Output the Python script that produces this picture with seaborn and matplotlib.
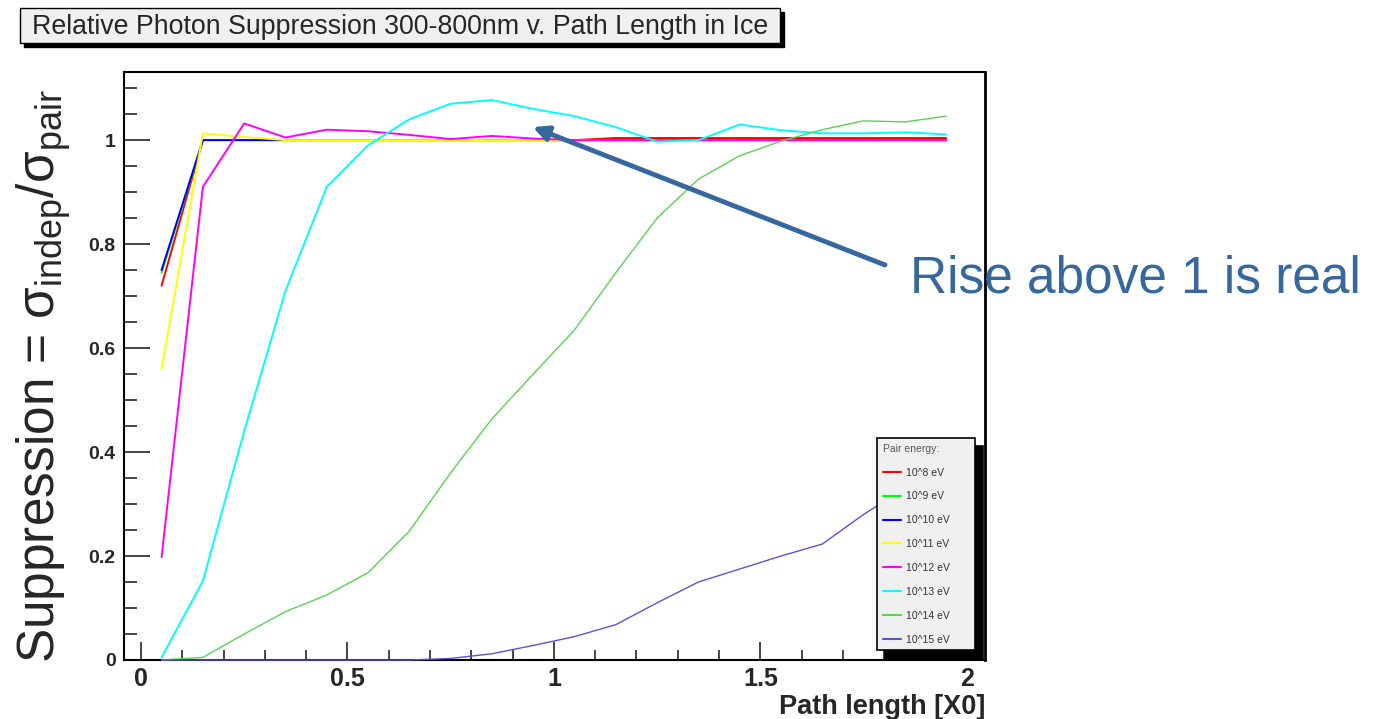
import matplotlib
matplotlib.use("Agg")
import matplotlib.pyplot as plt
import matplotlib.patches as mpatches
import pandas as pd
import seaborn as sns

# path lengths (X0) where the suppression was evaluated
path_len = [0.05, 0.15, 0.25, 0.35, 0.45, 0.55, 0.65, 0.75, 0.85, 0.95,
            1.05, 1.15, 1.25, 1.35, 1.45, 1.55, 1.65, 1.75, 1.85, 1.95]

energy_labels = ["10^8 eV", "10^9 eV", "10^10 eV", "10^11 eV",
                 "10^12 eV", "10^13 eV", "10^14 eV", "10^15 eV"]
energy_colors = ["#ff0000", "#00ff00", "#0000ff", "#ffff00",
                 "#ff00ff", "#00ffff", "#59d454", "#5954d9"]

supp_e8 = [0.72, 1.0, 1.0, 1.0, 1.0, 1.0, 1.0, 1.0, 1.0, 1.0,
           1.0, 1.004, 1.004, 1.004, 1.004, 1.004, 1.004, 1.004, 1.004, 1.004]
supp_e9 = [0.745, 1.0, 1.0, 1.0, 1.0, 1.0, 1.0, 1.0, 1.0, 1.0,
           1.0, 1.0, 1.0, 1.0, 1.0, 1.0, 1.0, 1.0, 1.0, 1.0]
supp_e10 = [0.75, 1.0, 1.0, 1.0, 1.0, 1.0, 1.0, 1.0, 1.0, 1.0,
            1.0, 1.0, 1.0, 1.0, 1.0, 1.0, 1.0, 1.0, 1.0, 1.0]
supp_e11 = [0.56, 1.013, 1.006, 1.0, 1.0, 1.0, 1.0, 1.0, 1.0, 1.0,
            1.0, 1.0, 1.0, 1.0, 1.0, 1.0, 1.0, 1.0, 1.0, 1.0]
supp_e12 = [0.198, 0.91, 1.032, 1.005, 1.02, 1.017, 1.01, 1.002, 1.008, 1.003,
            1.0, 1.0, 1.0, 1.0, 1.0, 1.0, 1.0, 1.0, 1.0, 1.0]
supp_e13 = [0.005, 0.152, 0.44, 0.71, 0.91, 0.99, 1.04, 1.07, 1.077, 1.06,
            1.046, 1.025, 0.997, 1.0, 1.03, 1.019, 1.013, 1.013, 1.015, 1.011]
supp_e14 = [0.0, 0.005, 0.05, 0.093, 0.125, 0.168, 0.248, 0.36, 0.464, 0.55,
            0.635, 0.745, 0.85, 0.925, 0.97, 0.998, 1.02, 1.037, 1.035, 1.046]
supp_e15 = [0.0, 0.0, 0.0, 0.0, 0.0, 0.0, 0.0, 0.003, 0.012, 0.028,
            0.045, 0.068, 0.11, 0.15, 0.175, 0.2, 0.223, 0.28, 0.33, 0.38]

all_series = [supp_e8, supp_e9, supp_e10, supp_e11,
              supp_e12, supp_e13, supp_e14, supp_e15]

xticks = [0, 0.5, 1, 1.5, 2]
xtick_labels = ["0", "0.5", "1", "1.5", "2"]
yticks = [0, 0.2, 0.4, 0.6, 0.8, 1.0]
ytick_labels = ["0", "0.2", "0.4", "0.6", "0.8", "1"]

sns.set_style("white")
plt.rcParams["font.family"] = ["Liberation Sans", "DejaVu Sans"]
plt.rcParams["mathtext.fontset"] = "custom"
plt.rcParams["mathtext.rm"] = "Liberation Sans"
plt.rcParams["mathtext.it"] = "Liberation Sans"

W, H = 1385, 719
fig = plt.figure(figsize=(W / 100, H / 100), dpi=100)
ax = fig.add_axes([124 / W, 1 - 660 / H, 861 / W, 588 / H])

for vals, lab, col in zip(all_series, energy_labels, energy_colors):
    lw = 1.0 if lab in ("10^14 eV", "10^15 eV") else 1.4
    sns.lineplot(x=path_len, y=vals, color=col, label=lab, lw=lw, ax=ax,
                 zorder=3, clip_on=False)

ax.set_xlim(-0.041, 2.044)
ax.set_ylim(0, 1.131)
ax.set_xticks(xticks)
ax.set_xticklabels(xtick_labels, fontsize=18, fontweight="bold")
ax.set_yticks(yticks)
ax.set_yticklabels(ytick_labels, fontsize=14, fontweight="bold")
ax.set_xticks([i / 10 for i in range(0, 21)], minor=True)
ax.set_yticks([i / 20 for i in range(0, 23)], minor=True)
ax.tick_params(axis="x", which="major", direction="in", length=13, width=1.2, pad=5)
ax.tick_params(axis="x", which="minor", direction="in", length=7, width=1.2)
ax.tick_params(axis="y", which="major", direction="in", length=19, width=1.2, pad=6)
ax.tick_params(axis="y", which="minor", direction="in", length=9.5, width=1.2)
ax.tick_params(bottom=True, left=True, top=False, right=False, which="both")
for sp in ax.spines.values():
    sp.set_color("black")
    sp.set_linewidth(1.5)
ax.spines["right"].set_linewidth(2.0)
ax.set_xlabel("")
ax.set_ylabel("")

handles, labels = ax.get_legend_handles_labels()
leg = ax.legend(handles, labels, title="Pair energy:",
                loc="upper left",
                bbox_to_anchor=((877 - 124) / 861, (660 - 438) / 588, 98 / 861, 0.0),
                mode="expand", borderaxespad=0,
                fontsize=7.5, title_fontsize=7.5, frameon=True, fancybox=False,
                edgecolor="black", facecolor="#f0f0f0", framealpha=1,
                shadow={"ox": 6, "oy": -6, "color": "black", "alpha": 1},
                labelspacing=1.33, handlelength=1.8, handletextpad=0.4,
                borderpad=0.55, alignment="left")
leg.get_frame().set_linewidth(1.2)
leg.set_zorder(5)
leg.get_title().set_color("#555555")
for t in leg.get_texts():
    t.set_color("#333333")
for h in leg.get_lines():
    h.set_linewidth(1.5)

# title box with drop shadow (ROOT style)
fig.patches.append(mpatches.Rectangle((24 / W, 1 - 47 / H), 760 / W, 35 / H,
                                      transform=fig.transFigure, color="black", zorder=1))
fig.patches.append(mpatches.Rectangle((20 / W, 1 - 43 / H), 760 / W, 35 / H,
                                      transform=fig.transFigure, facecolor="#f0f0f0",
                                      edgecolor="black", lw=1.0, zorder=2))
fig.text(400 / W, 1 - 27 / H, "Relative Photon Suppression 300-800nm v. Path Length in Ice",
         ha="center", va="center", fontsize=19.3, zorder=3)

fig.text(985 / W, 5 / H, "Path length [X0]", ha="right", va="baseline",
         fontsize=19.5, fontweight="bold")

fig.text(44 / W, 1 - 376 / H,
         r"Suppression = $\mathregular{\sigma_{indep}/\sigma_{pair}}$",
         rotation=90, ha="center", va="center", fontsize=37)

note_color = "#36679f"
ax.annotate("", xy=(0.949, 1.025), xycoords="data",
            xytext=(885, H - 265), textcoords="figure pixels",
            arrowprops=dict(arrowstyle="-|>,head_length=0.9,head_width=0.45",
                            color=note_color, lw=3.5, shrinkA=0, shrinkB=0))
fig.text(910 / W, 1 - 292 / H, "Rise above 1 is real", ha="left", va="baseline",
         fontsize=37, color=note_color)

fig.savefig("out.png", dpi=100)
